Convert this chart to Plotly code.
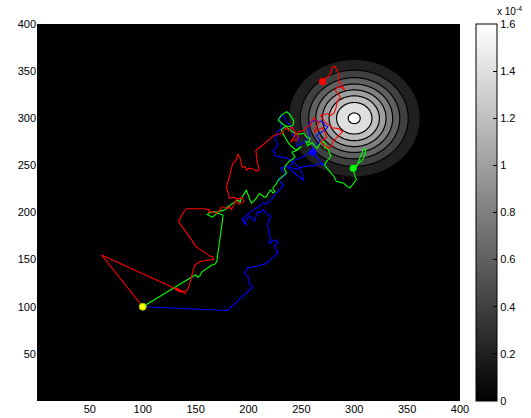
import numpy as np
import plotly.graph_objects as go

# ---- data ----
red_x = [100, 61, 141, 132, 131, 135, 142, 144, 149, 152, 154, 160, 167, 166, 163, 158, 150, 148, 146, 140, 134, 136, 141,
         150, 158, 163, 162, 166, 170, 173, 175, 180, 182, 184, 186, 188, 191, 194, 196, 193, 190, 186, 182, 181, 179, 182,
         185, 188, 190, 192, 193, 194, 197, 198, 201, 205, 207, 210, 208, 207, 212, 218, 223, 227, 232, 234, 236, 238, 241,
         244, 247, 246, 241, 240, 244, 248, 252, 255, 258, 260, 262, 264, 267, 264, 262, 266, 270, 272, 274, 271, 268, 272,
         276, 279, 280, 283, 286, 289, 285, 279, 276, 272, 270, 268, 272, 275, 278, 281, 283, 284, 287, 285, 282, 284, 287,
         291, 288, 285, 286, 284, 282, 279, 278, 275, 272, 270]
red_y = [100, 155, 114, 120, 118, 116, 117, 123, 144, 147, 148, 149, 150, 153, 154, 158, 164, 168, 171, 181, 190, 196, 204,
         204, 204, 203, 200, 201, 199, 203, 206, 204, 206, 203, 208, 213, 209, 211, 212, 216, 214, 216, 215, 220, 227, 238,
         252, 255, 262, 258, 252, 248, 249, 245, 247, 246, 244, 245, 255, 266, 270, 276, 281, 283, 284, 288, 290, 287, 291,
         285, 281, 277, 277, 274, 282, 286, 287, 291, 292, 297, 301, 297, 296, 291, 285, 288, 290, 285, 280, 277, 275, 271,
         268, 272, 276, 279, 282, 286, 289, 290, 293, 296, 300, 303, 304, 305, 303, 306, 312, 318, 322, 325, 330, 333, 333,
         330, 336, 339, 345, 350, 355, 354, 348, 344, 342, 339]

green_x = [100, 150, 152, 154, 156, 160, 165, 168, 170, 176, 172, 168, 164, 161, 164, 166, 169, 171, 175, 178, 180, 182, 184,
           186, 188, 190, 192, 193, 196, 198, 199, 200, 201, 203, 205, 208, 210, 212, 215, 217, 219, 221, 223, 225, 223, 226,
           228, 230, 231, 234, 236, 234, 235, 237, 238, 241, 244, 242, 241, 244, 246, 248, 250, 247, 245, 242, 239, 236, 233,
           232, 231, 234, 236, 239, 242, 243, 241, 239, 236, 233, 231, 229, 228, 230, 232, 235, 238, 241, 244, 248, 252, 255,
           258, 257, 254, 256, 260, 262, 265, 267, 270, 273, 272, 274, 276, 278, 276, 275, 273, 272, 275, 278, 281, 283, 287,
           290, 293, 296, 298, 300, 302, 301, 300, 299, 301, 303, 304, 305, 307, 308, 310, 311, 310, 309, 307, 304, 301, 299]
green_y = [100, 134, 131, 133, 137, 140, 144, 145, 148, 197, 199, 201, 200, 198, 196, 195, 198, 201, 202, 203, 206, 207, 209,
           210, 212, 213, 211, 215, 220, 224, 220, 218, 214, 210, 212, 216, 220, 219, 216, 217, 221, 224, 221, 222, 226, 230,
           234, 236, 238, 240, 242, 246, 250, 252, 254, 256, 259, 262, 264, 265, 266, 268, 270, 268, 266, 269, 272, 277, 282,
           285, 288, 290, 292, 291, 293, 297, 300, 304, 307, 305, 303, 300, 298, 296, 294, 291, 288, 286, 284, 283, 284, 280,
           279, 274, 276, 271, 274, 272, 268, 272, 276, 273, 268, 270, 265, 260, 257, 256, 253, 250, 246, 243, 238, 233, 232,
           231, 228, 226, 229, 232, 235, 238, 242, 245, 248, 250, 254, 257, 261, 265, 268, 266, 262, 258, 255, 252, 250, 247]

blue_x = [100, 180, 204, 202, 201, 200, 200, 197, 196, 198, 199, 208, 217, 222, 228, 226, 225, 228, 226, 222, 219, 221, 220,
          219, 218, 220, 221, 217, 214, 211, 209, 207, 206, 203, 201, 198, 195, 197, 198, 196, 194, 198, 201, 205, 208, 211,
          214, 217, 220, 223, 226, 229, 233, 231, 228, 232, 235, 233, 230, 234, 237, 241, 245, 248, 252, 251, 250, 246, 242,
          239, 236, 231, 226, 225, 223, 226, 228, 226, 225, 228, 227, 230, 232, 230, 229, 231, 233, 235, 236, 239, 242, 243,
          242, 245, 248, 247, 246, 249, 252, 255, 258, 257, 256, 257, 258, 261, 264, 266, 269, 271, 272, 275, 273, 270, 267,
          264, 266, 268, 265, 262, 259, 256, 253, 250, 247, 244, 241, 238, 242, 246, 250, 254, 258, 261, 264, 267, 270, 272,
          269, 266, 263, 261]
blue_y = [100, 96, 121, 123, 124, 128, 131, 134, 136, 139, 141, 143, 146, 151, 157, 161, 165, 168, 171, 169, 167, 171, 175,
          182, 188, 192, 196, 199, 203, 200, 201, 196, 191, 194, 196, 193, 190, 187, 188, 191, 193, 197, 200, 203, 205, 207,
          210, 209, 212, 216, 220, 224, 229, 232, 236, 237, 240, 244, 247, 248, 249, 244, 240, 237, 234, 239, 244, 250, 254,
          256, 258, 259, 260, 263, 266, 269, 272, 276, 280, 283, 286, 288, 290, 295, 300, 302, 303, 299, 296, 293, 290, 286,
          282, 280, 278, 274, 270, 272, 274, 278, 282, 286, 290, 293, 295, 297, 298, 296, 297, 295, 293, 291, 288, 286, 284,
          281, 278, 276, 273, 270, 266, 262, 260, 258, 257, 256, 252, 248, 247, 246, 248, 249, 250, 249, 251, 252, 251, 250,
          253, 256, 260, 264]

start_point = [100, 100]

# density field parameters (gaussian target)
target_center = [300, 300]
target_peak = 1.628e-4
target_two_sigma_sq = 1857.0
contour_levels = dict(start=2e-5, end=1.6e-4, size=2e-5)

cbar_ticks = [0, 0.2, 0.4, 0.6, 0.8, 1.0, 1.2, 1.4, 1.6]
cbar_text = ["0", "0.2", "0.4", "0.6", "0.8", "1", "1.2", "1.4", "1.6"]
axis_ticks = [50, 100, 150, 200, 250, 300, 350, 400]

gx = np.linspace(0, 400, 401)
gy = np.linspace(0, 400, 401)
GX, GY = np.meshgrid(gx, gy)
Z = target_peak * np.exp(-((GX - target_center[0]) ** 2 + (GY - target_center[1]) ** 2) / target_two_sigma_sq)

gray = [[0, "rgb(0,0,0)"], [1, "rgb(255,255,255)"]]
font = dict(family="Liberation Sans, Arial, sans-serif", size=11, color="#000000")

fig = go.Figure()
fig.add_trace(go.Contour(
    x=gx, y=gy, z=Z,
    colorscale=gray, showscale=False,
    autocontour=False,
    contours=dict(start=contour_levels["start"], end=contour_levels["end"],
                  size=contour_levels["size"], coloring="fill"),
    line=dict(color="black", width=1.2),
    hoverinfo="skip",
))

lw = 1.1
fig.add_trace(go.Scatter(x=blue_x, y=blue_y, mode="lines", line=dict(color="#0000ff", width=lw), showlegend=False))
fig.add_trace(go.Scatter(x=green_x, y=green_y, mode="lines", line=dict(color="#00ff00", width=lw), showlegend=False))
fig.add_trace(go.Scatter(x=red_x, y=red_y, mode="lines", line=dict(color="#ff0000", width=lw), showlegend=False))

# end markers
fig.add_trace(go.Scatter(x=[blue_x[-1]], y=[blue_y[-1]], mode="markers",
                         marker=dict(color="#0000ff", size=7), showlegend=False))
fig.add_trace(go.Scatter(x=[green_x[-1]], y=[green_y[-1]], mode="markers",
                         marker=dict(color="#00ff00", size=7), showlegend=False))
fig.add_trace(go.Scatter(x=[red_x[-1]], y=[red_y[-1]], mode="markers",
                         marker=dict(color="#ff0000", size=7), showlegend=False))
fig.add_trace(go.Scatter(x=[start_point[0]], y=[start_point[1]], mode="markers",
                         marker=dict(color="#ffff00", size=7, line=dict(color="#88cc00", width=1)), showlegend=False))

# continuous colorbar (dummy trace outside the view)
fig.add_trace(go.Scatter(
    x=[-1000], y=[-1000], mode="markers", showlegend=False, hoverinfo="skip",
    marker=dict(color=[0], cmin=0, cmax=1.6, colorscale=gray, showscale=True, size=1,
                colorbar=dict(thickness=21, len=1, lenmode="fraction", y=0.5, yanchor="middle",
                              x=1.037, xanchor="left", xpad=0, ypad=0,
                              outlinewidth=1, outlinecolor="black",
                              tickvals=cbar_ticks, ticktext=cbar_text,
                              ticks="inside", ticklen=4, tickcolor="black",
                              tickfont=font)),
))

fig.add_annotation(text="x 10<sup>-4</sup>", xref="paper", yref="paper", x=1.082, y=1.0,
                   xanchor="left", yanchor="bottom", yshift=5, showarrow=False,
                   font=dict(family=font["family"], size=10, color="#000000"))

fig.update_layout(
    width=531, height=418,
    margin=dict(l=37, r=71, t=24, b=17, autoexpand=False),
    paper_bgcolor="white", plot_bgcolor="black",
    font=font,
    showlegend=False,
    xaxis=dict(range=[0, 400], tickvals=axis_ticks, showgrid=False, zeroline=False,
               ticks="", tickfont=font, showline=False),
    yaxis=dict(range=[0, 400], tickvals=axis_ticks, showgrid=False, zeroline=False,
               ticks="", tickfont=font, showline=False),
)

fig.write_html("out.html", config={"displayModeBar": False},
               post_script="document.body.style.margin='0px';")
